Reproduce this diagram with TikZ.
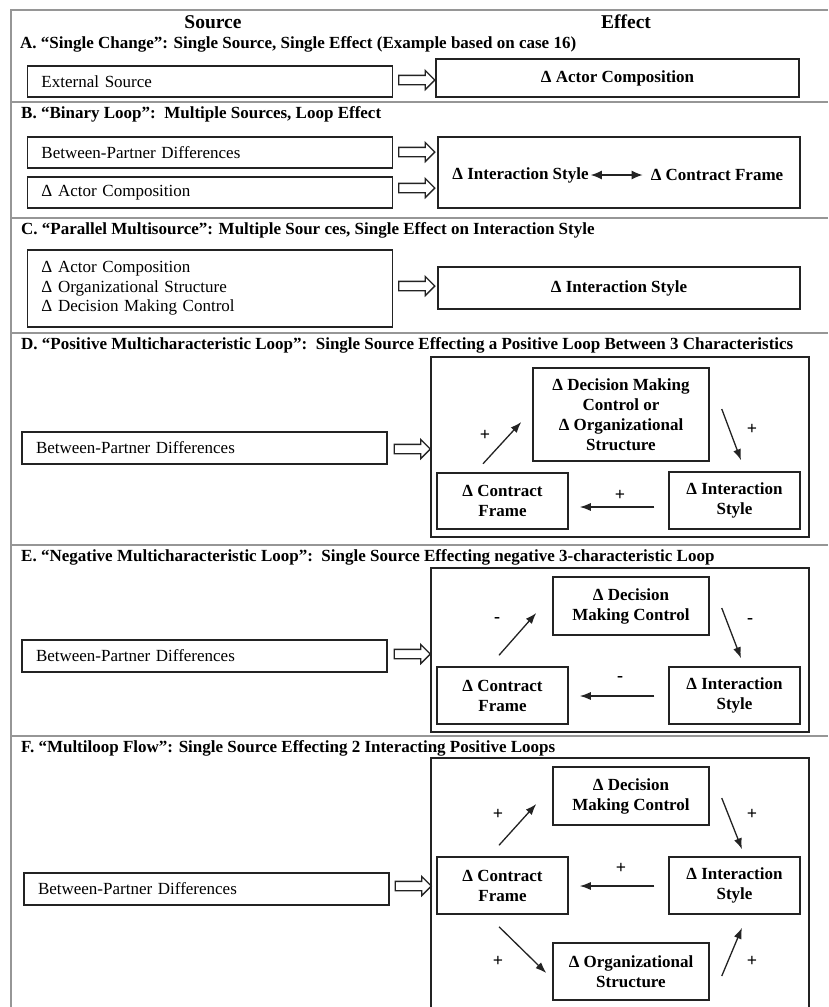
\documentclass[tikz,border=0pt]{standalone}
\usepackage{fontspec}
\setmainfont{Liberation Serif}
\usetikzlibrary{shapes.arrows,arrows.meta,calc}
\definecolor{sepgray}{RGB}{150,150,150}
\definecolor{ink}{RGB}{35,35,35}
\begin{document}
\begin{tikzpicture}[x=1pt,y=-1pt,
  sepline/.style={draw=sepgray,line width=1.6pt},
  srcbox/.style={draw=ink,line width=1.5pt,text width=337pt,inner xsep=14pt,inner ysep=0pt,align=left,minimum height=31pt,font=\fontsize{17}{19.5}\selectfont},
  effbox/.style={draw=ink,line width=1.5pt,align=center,inner sep=0pt,font=\fontsize{17}{20}\selectfont\bfseries},
  bigbox/.style={draw=ink,line width=1.5pt,inner sep=0pt},
  title/.style={anchor=west,inner sep=0pt,font=\fontsize{17}{20}\selectfont\bfseries},
  header/.style={inner sep=0pt,font=\fontsize{19.5}{23}\selectfont\bfseries},
  hollow/.style={single arrow,draw=ink,line width=1.3pt,fill=white,minimum height=36pt,minimum width=0pt,single arrow head extend=5pt,single arrow tip angle=90,inner sep=4pt},
  arr/.style={draw=ink,line width=1.3pt,-{Latex[length=11pt,width=8pt]}},
  sign/.style={inner sep=0pt,font=\fontsize{18}{20}\selectfont\bfseries},
  plain/.style={inner sep=2pt,font=\fontsize{17}{20}\selectfont\bfseries}
]
\useasboundingbox (0,0) rectangle (828,1007);
\fill[white] (0,0) rectangle (828,1007);

% table frame
\draw[sepline] (828,10) -- (11,10) -- (11,1010);
\draw[sepline] (11,102) -- (828,102);
\draw[sepline] (11,218) -- (828,218);
\draw[sepline] (11,333) -- (828,333);
\draw[sepline] (11,545) -- (828,545);
\draw[sepline] (11,736) -- (828,736);

% headers
\node[header] (hSrc) at (213,22) {Source};
\node[header] (hEff) at (626,22) {Effect};

% ---------- A
\node[title] (tA) at (20,44) {A. “Single Change”: Single Source, Single Effect (Example based on case 16)};
\node[srcbox] (srcA) at (210,81.5) {External Source};
\node[effbox,minimum width=363pt,minimum height=38pt] (effA) at (617.5,78) {Δ Actor Composition};
\node[hollow] (arA) at (414.5,80) {};

% ---------- B
\node[title] (tB) at (21,114) {B. “Binary Loop”:\ \ Multiple Sources, Loop Effect};
\node[srcbox] (srcB1) at (210,152.5) {Between-Partner Differences};
\node[srcbox] (srcB2) at (210,192.5) {Δ Actor Composition};
\node[bigbox,minimum width=362pt,minimum height=71pt] (effB) at (619,172.5) {};
\node[plain] (isB) at (520.5,175) {Δ Interaction Style};
\node[plain] (cfB) at (717,175) {Δ Contract Frame};
\draw[draw=ink,line width=1.2pt,{Latex[length=11pt,width=9pt]}-{Latex[length=11pt,width=9pt]},shorten >=6pt] (isB.east) -- (cfB.west);
\node[hollow] (arB1) at (414.5,152) {};
\node[hollow] (arB2) at (414.5,188) {};

% ---------- C
\node[title] (tC) at (21,230) {C. “Parallel Multisource”: Multiple Sour ces, Single Effect on Interaction Style};
\node[srcbox,minimum height=77pt] (srcC) at (210,288.5) {Δ Actor Composition\\Δ Organizational Structure\\Δ Decision Making Control};
\node[effbox,minimum width=362pt,minimum height=42pt] (effC) at (619,288) {Δ Interaction Style};
\node[hollow] (arC) at (414.5,286) {};

% ---------- D
\node[title] (tD) at (21,345) {D. “Positive Multicharacteristic Loop”:\ \ Single Source Effecting a Positive Loop Between 3 Characteristics};
\node[srcbox,minimum height=32pt] (srcD) at (204.5,448) {Between-Partner Differences};
\node[hollow] (arD) at (410,449) {};
\node[bigbox,minimum width=378pt,minimum height=180pt] (bigD) at (620,447) {};
\node[effbox,minimum width=176pt,minimum height=93pt] (dmD) at (621,414.5) {Δ Decision Making\\Control or\\Δ Organizational\\Structure};
\node[effbox,minimum width=131pt,minimum height=56pt] (cfD) at (502.5,501) {Δ Contract\\Frame};
\node[effbox,minimum width=131pt,minimum height=57pt] (isD) at (734.5,500.5) {Δ Interaction\\Style};
\draw[arr] ($(cfD.north)+(-19.5,-8.5)$) -- ($(dmD.west)+(-11,7.5)$);
\draw[arr] ($(dmD.east)+(12,-5.5)$) -- ($(isD.north)+(6.5,-11)$);
\draw[arr] ($(isD.west)+(-14,6.5)$) -- ($(cfD.east)+(11,6)$);
\node[sign] (sD1) at (485,435) {+};
\node[sign] (sD2) at (752,429) {+};
\node[sign] (sD3) at (620,495) {+};

% ---------- E
\node[title] (tE) at (21,557) {E. “Negative Multicharacteristic Loop”:\ \ Single Source Effecting negative 3-characteristic Loop};
\node[srcbox,minimum height=32pt] (srcE) at (204.5,656) {Between-Partner Differences};
\node[hollow] (arE) at (410,654) {};
\node[bigbox,minimum width=378pt,minimum height=164pt] (bigE) at (620,650) {};
\node[effbox,minimum width=156pt,minimum height=58pt] (dmE) at (631,606) {Δ Decision\\Making Control};
\node[effbox,minimum width=131pt,minimum height=57pt] (cfE) at (502.5,695.5) {Δ Contract\\Frame};
\node[effbox,minimum width=131pt,minimum height=57pt] (isE) at (734.5,695.5) {Δ Interaction\\Style};
\draw[arr] ($(cfE.north)+(-3.5,-11)$) -- ($(dmE.west)+(-16,7)$);
\draw[arr] ($(dmE.east)+(12,2)$) -- ($(isE.north)+(6.5,-8)$);
\draw[arr] ($(isE.west)+(-14,0.5)$) -- ($(cfE.east)+(11,0.5)$);
\node[sign] (sE1) at (497,620) {-};
\node[sign] (sE2) at (750,621) {-};
\node[sign] (sE3) at (620,679) {-};

% ---------- F
\node[title] (tF) at (21,748) {F. “Multiloop Flow”: Single Source Effecting 2 Interacting Positive Loops};
\node[srcbox,minimum height=32pt] (srcF) at (206.5,889) {Between-Partner Differences};
\node[hollow] (arF) at (411,886) {};
\node[bigbox,minimum width=378pt,minimum height=262pt] (bigF) at (620,889) {};
\node[effbox,minimum width=156pt,minimum height=58pt] (dmF) at (631,796) {Δ Decision\\Making Control};
\node[effbox,minimum width=131pt,minimum height=57pt] (cfF) at (502.5,885.5) {Δ Contract\\Frame};
\node[effbox,minimum width=131pt,minimum height=57pt] (isF) at (734.5,885.5) {Δ Interaction\\Style};
\node[effbox,minimum width=156pt,minimum height=57pt] (osF) at (631,971.5) {Δ Organizational\\Structure};
\draw[arr] ($(cfF.north)+(-3.5,-11)$) -- ($(dmF.west)+(-16,8)$);
\draw[arr] ($(dmF.east)+(12,2)$) -- ($(isF.north)+(7.5,-7)$);
\draw[arr] ($(isF.west)+(-14,0.5)$) -- ($(cfF.east)+(11,0.5)$);
\draw[arr] ($(cfF.south)+(-3.5,12)$) -- ($(osF.west)+(-6,1.5)$);
\draw[arr] ($(osF.east)+(12,4.5)$) -- ($(isF.south)+(7.5,13)$);
\node[sign] (sF1) at (498,814) {+};
\node[sign] (sF2) at (752,814) {+};
\node[sign] (sF3) at (621,868) {+};
\node[sign] (sF4) at (498,961) {+};
\node[sign] (sF5) at (752,961) {+};
\end{tikzpicture}
\end{document}
